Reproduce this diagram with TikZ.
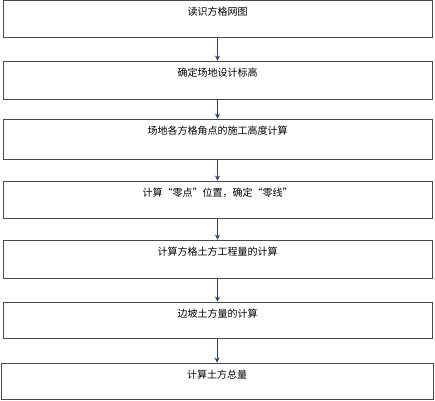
\documentclass[tikz,border=0pt]{standalone}
\usepackage{fontspec}
\setmainfont{Noto Sans CJK SC}
\usetikzlibrary{arrows.meta}
\definecolor{boxline}{HTML}{4A4A4A}
\definecolor{arrowline}{HTML}{2B3F66}
\newcommand{\stepwidth}{429pt}
\tikzstyle{stepbox}=[draw=boxline, line width=0.9pt, inner sep=0, minimum width=\stepwidth, font=\fontsize{11.5pt}{13pt}\selectfont]
\tikzstyle{flowarrow}=[draw=arrowline, line width=0.8pt, -{Stealth[length=5pt, width=5pt]}]
\tikzstyle{flowchart}=[x=1pt, y=-1pt,
                       % Labels sit near the top edge of each box.
                       every label/.style={anchor=center, inner sep=0, yshift=-12pt}]

\begin{document}
\begin{tikzpicture}[flowchart]
        \useasboundingbox (0, 0) rectangle (435, 400);
        \node[stepbox, minimum height=37pt, label={north:读识方格网图}] (S1) at (217.5, 18.5) {};
        \node[stepbox, minimum height=38pt, label={north:确定场地设计标高}] (S2) at (217.5, 80) {};
        \node[stepbox, minimum height=40pt, label={north:场地各方格角点的施工高度计算}] (S3) at (217.5, 139) {};
        \node[stepbox, minimum height=37pt, label={north:计算“零点”位置，确定“零线”}] (S4) at (217.5, 199.5) {};
        \node[stepbox, minimum height=38pt, label={north:计算方格土方工程量的计算}] (S5) at (217.5, 259) {};
        \node[stepbox, minimum height=36pt, label={north:边坡土方量的计算}] (S6) at (217.5, 320) {};
        \node[stepbox, minimum height=36pt, minimum width=432pt, label={north:计算土方总量}] (S7) at (217, 381) {};
        \draw[flowarrow] (S1.south) -- (S2.north);
        \draw[flowarrow] (S2.south) -- (S3.north);
        \draw[flowarrow] (S3.south) -- (S4.north);
        \draw[flowarrow] (S4.south) -- (S5.north);
        \draw[flowarrow] (S5.south) -- (S6.north);
        \draw[flowarrow] (S6.south -| S7.north) -- (S7.north);
    \end{tikzpicture}
\end{document}
